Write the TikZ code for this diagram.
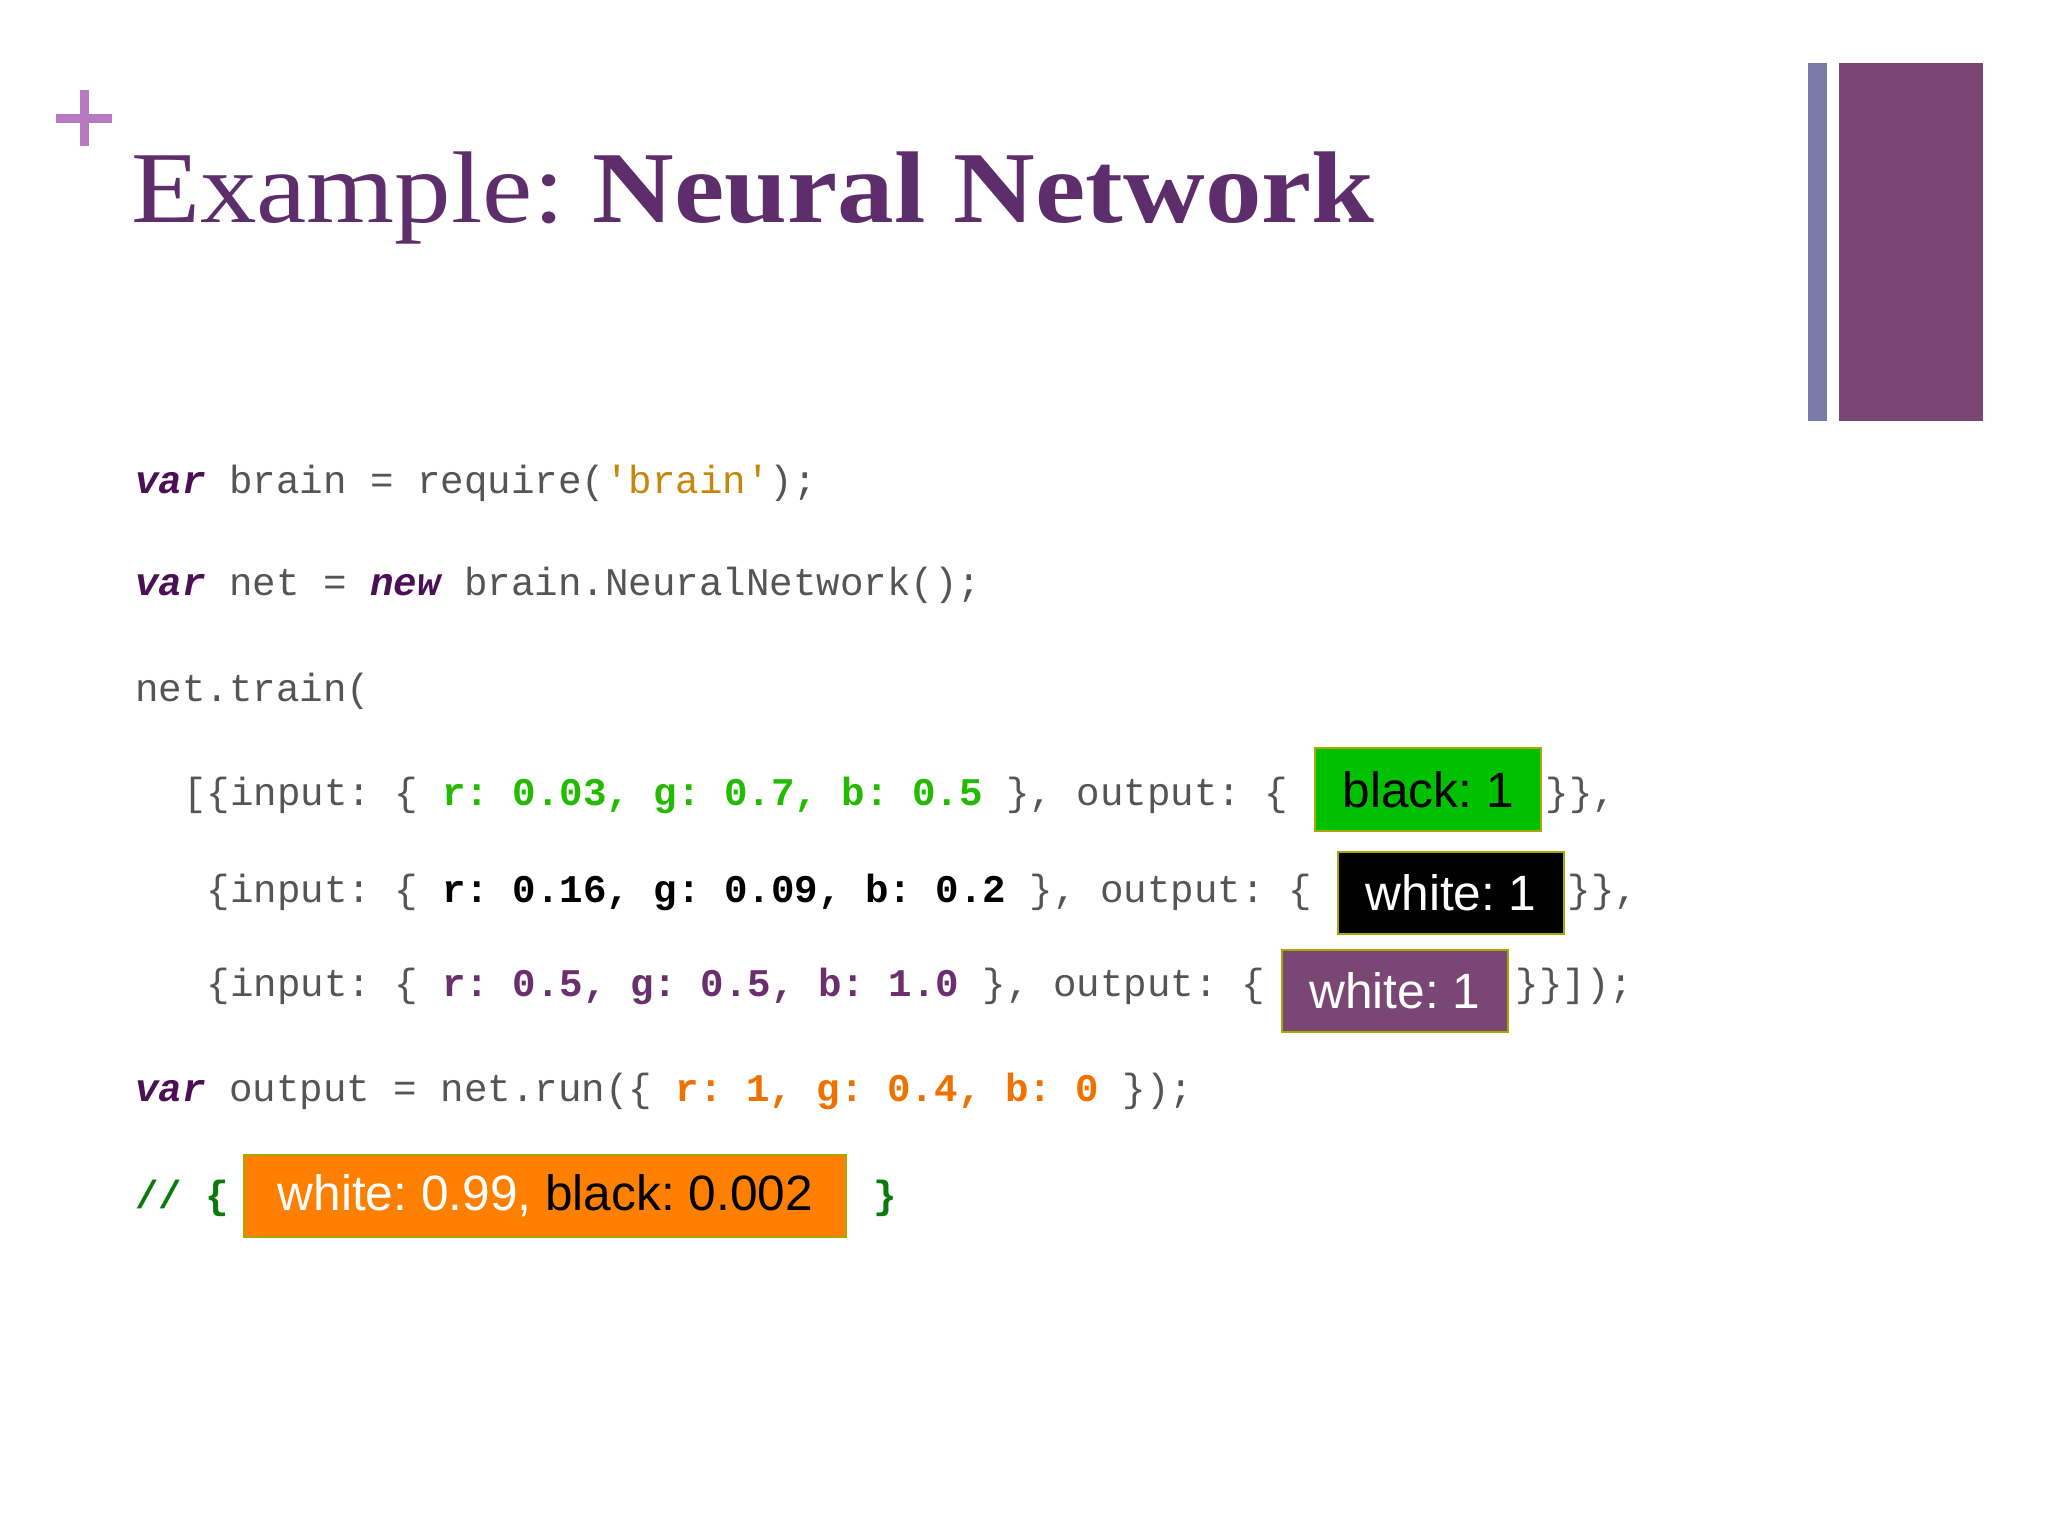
\documentclass[tikz,border=0pt]{standalone}
\usepackage{fontspec}
\setmainfont{Liberation Serif}
\newfontfamily\codef{Liberation Mono}
\newfontfamily\boxf{Liberation Sans}
\definecolor{ttl}{HTML}{5E2D6B}
\definecolor{plusc}{HTML}{B57AC0}
\definecolor{barA}{HTML}{7B7BAA}
\definecolor{barB}{HTML}{7A4775}
\definecolor{codeg}{HTML}{555555}
\definecolor{kwc}{HTML}{4B0F55}
\definecolor{strc}{HTML}{C8860A}
\definecolor{grn}{HTML}{22BB00}
\definecolor{org}{HTML}{F07000}
\definecolor{pur}{HTML}{6B2E6E}
\definecolor{cmt}{HTML}{0A7A0A}
\definecolor{boxg}{HTML}{00C000}
\definecolor{boxp}{HTML}{7A4775}
\definecolor{boxo}{HTML}{FF8000}
\definecolor{edge}{HTML}{A8A800}
\newcommand{\kw}[1]{{\bfseries\itshape\color{kwc}#1}}
\frenchspacing
\begin{document}
\frenchspacing
\begin{tikzpicture}[x=0.5pt,y=-0.5pt,
  code/.style={anchor=base west,inner sep=0pt,font=\frenchspacing\codef\fontsize{15pt}{18pt}\selectfont,text=codeg},
  hbox/.style={draw=edge,line width=0.8pt,minimum width=86.5pt,minimum height=31.5pt,inner sep=0pt,font=\frenchspacing\boxf\fontsize{19pt}{22pt}\selectfont}]
\useasboundingbox (0,0) rectangle (1568,1176);
\fill[white] (0,0) rectangle (1568,1176);
% plus
\fill[plusc] (43,87) rectangle (86,94);
\fill[plusc] (61,69) rectangle (68,112);
% bars
\fill[barA] (1384,48) rectangle (1399,322);
\fill[barB] (1408,48) rectangle (1518,322);
% title
\node[anchor=base west,inner sep=0pt,text=ttl,font=\frenchspacing\fontsize{39pt}{44pt}\selectfont] (title) at (100,170) {\scalebox{1.11}[1]{Example: \textbf{Neural Network}}};
% code
\node[code] (l1) at (103,378) {\kw{var} brain = require({\color{strc}'brain'});};
\node[code] (l2) at (103,456) {\kw{var} net = \kw{new} brain.NeuralNetwork();};
\node[code] (l3) at (103,537) {net.train(};
\node[code] (l4) at (140,617) {[\{input: \{ {\bfseries\color{grn}r: 0.03, g: 0.7, b: 0.5} \}, output: \{};
\node[hbox,fill=boxg,text=black] (b1) at (1093.5,604.5) {black: 1};
\node[code] (l4e) at (1183,617) {\}\},};
\node[code] (l5) at (158,691) {\{input: \{ {\bfseries\color{black}r: 0.16, g: 0.09, b: 0.2} \}, output: \{};
\node[hbox,fill=black,text=white] (b2) at (1111,683.5) {white: 1};
\node[code] (l5e) at (1200,691) {\}\},};
\node[code] (l6) at (158,763) {\{input: \{ {\bfseries\color{pur}r: 0.5, g: 0.5, b: 1.0} \}, output: \{};
\node[hbox,fill=boxp,text=white] (b3) at (1068,758.5) {white: 1};
\node[code] (l6e) at (1160,763) {\}\}]);};
\node[code] (l7) at (103,843) {\kw{var} output = net.run(\{ {\bfseries\color{org}r: 1, g: 0.4, b: 0} \});};
\node[code,text=cmt,font=\codef\bfseries\fontsize{15pt}{18pt}\selectfont] (l8) at (103,925) {// \{};
\node[hbox,fill=boxo,minimum width=230.5pt] (b4) at (417.5,915.5) {{\color{white}white: 0.99,} {\color{black}black: 0.002}};
\node[code,text=cmt,font=\codef\bfseries\fontsize{15pt}{18pt}\selectfont] (l8e) at (668,925) {\}};
\end{tikzpicture}
\end{document}
